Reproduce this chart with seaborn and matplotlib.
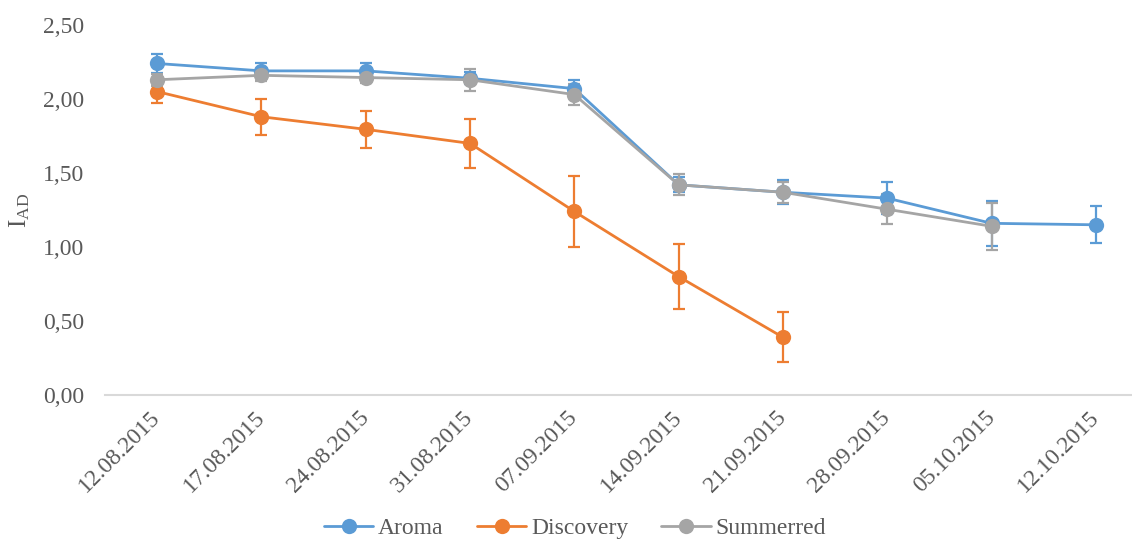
import numpy as np
import pandas as pd
import matplotlib
matplotlib.use("Agg")
import matplotlib.pyplot as plt
import seaborn as sns

dates = ["12.08.2015", "17.08.2015", "24.08.2015", "31.08.2015", "07.09.2015",
         "14.09.2015", "21.09.2015", "28.09.2015", "05.10.2015", "12.10.2015"]

aroma = [2.24, 2.19, 2.19, 2.14, 2.07, 1.42, 1.37, 1.33, 1.16, 1.15]
aroma_err = [0.065, 0.05, 0.05, 0.04, 0.06, 0.05, 0.08, 0.11, 0.15, 0.125]

discovery = [2.05, 1.88, 1.795, 1.70, 1.24, 0.80, 0.39, np.nan, np.nan, np.nan]
discovery_err = [0.08, 0.12, 0.125, 0.165, 0.24, 0.22, 0.17, np.nan, np.nan, np.nan]

summerred = [2.13, 2.16, 2.145, 2.13, 2.03, 1.42, 1.37, 1.255, 1.14, np.nan]
summerred_err = [0.04, 0.04, 0.04, 0.075, 0.07, 0.07, 0.07, 0.10, 0.16, np.nan]

series = {"Aroma": (aroma, aroma_err),
          "Discovery": (discovery, discovery_err),
          "Summerred": (summerred, summerred_err)}
colors = {"Aroma": "#5B9BD5", "Discovery": "#ED7D31", "Summerred": "#A5A5A5"}

rows = []
for name, (vals, errs) in series.items():
    for i, (v, e) in enumerate(zip(vals, errs)):
        rows.append({"idx": i, "date": dates[i], "value": v, "err": e, "series": name})
df = pd.DataFrame(rows).dropna()

sns.set_theme(style="white")
plt.rcParams["font.family"] = ["Liberation Serif", "DejaVu Serif"]
plt.rcParams["mathtext.fontset"] = "custom"
plt.rcParams["mathtext.rm"] = "Liberation Serif"
plt.rcParams["mathtext.it"] = "Liberation Serif"
text_col = "#595959"

fig = plt.figure(figsize=(11.32, 5.4), dpi=100)
ax = fig.add_axes([105 / 1132, (540 - 395) / 540, 1043 / 1132, 370 / 540])

for name in series:
    sub = df[df["series"] == name]
    ax.errorbar(sub["idx"], sub["value"], yerr=sub["err"], fmt="none",
                ecolor=colors[name], elinewidth=1.6, capsize=4.5, capthick=1.6, zorder=2)
    sns.lineplot(data=sub, x="idx", y="value", ax=ax, color=colors[name],
                 marker="o", markersize=11, markeredgewidth=0, linewidth=2,
                 label=name, zorder=3)

ax.set_xlim(-0.5, len(dates) - 0.5)
ax.set_ylim(0, 2.5)
yt = np.arange(0, 2.51, 0.5)
ax.set_yticks(yt)
ax.set_yticklabels([f"{t:.2f}".replace(".", ",") for t in yt],
                   fontsize=17, color=text_col)
ax.set_xticks(range(len(dates)))
ax.set_xticklabels(dates, rotation=45, ha="right", va="center",
                   rotation_mode="anchor", fontsize=17, color=text_col)
ax.tick_params(axis="x", length=0, pad=14)
ax.tick_params(axis="y", length=0, pad=15)

ax.set_xlabel("")
ax.set_ylabel(r"I$_{\mathrm{AD}}$", fontsize=18, color=text_col, labelpad=8)
for s in ["top", "right", "left"]:
    ax.spines[s].set_visible(False)
ax.spines["bottom"].set_color("#D9D9D9")
ax.spines["bottom"].set_linewidth(1.5)

handles, labels = ax.get_legend_handles_labels()
ax.get_legend().remove()
fig.legend(handles, labels, loc="center", bbox_to_anchor=(575 / 1132, 1 - 528 / 540),
           ncol=3, frameon=False, fontsize=17, labelcolor=text_col,
           handlelength=2.1, columnspacing=1.4, handletextpad=0.2)

fig.savefig("out.png", dpi=100)
